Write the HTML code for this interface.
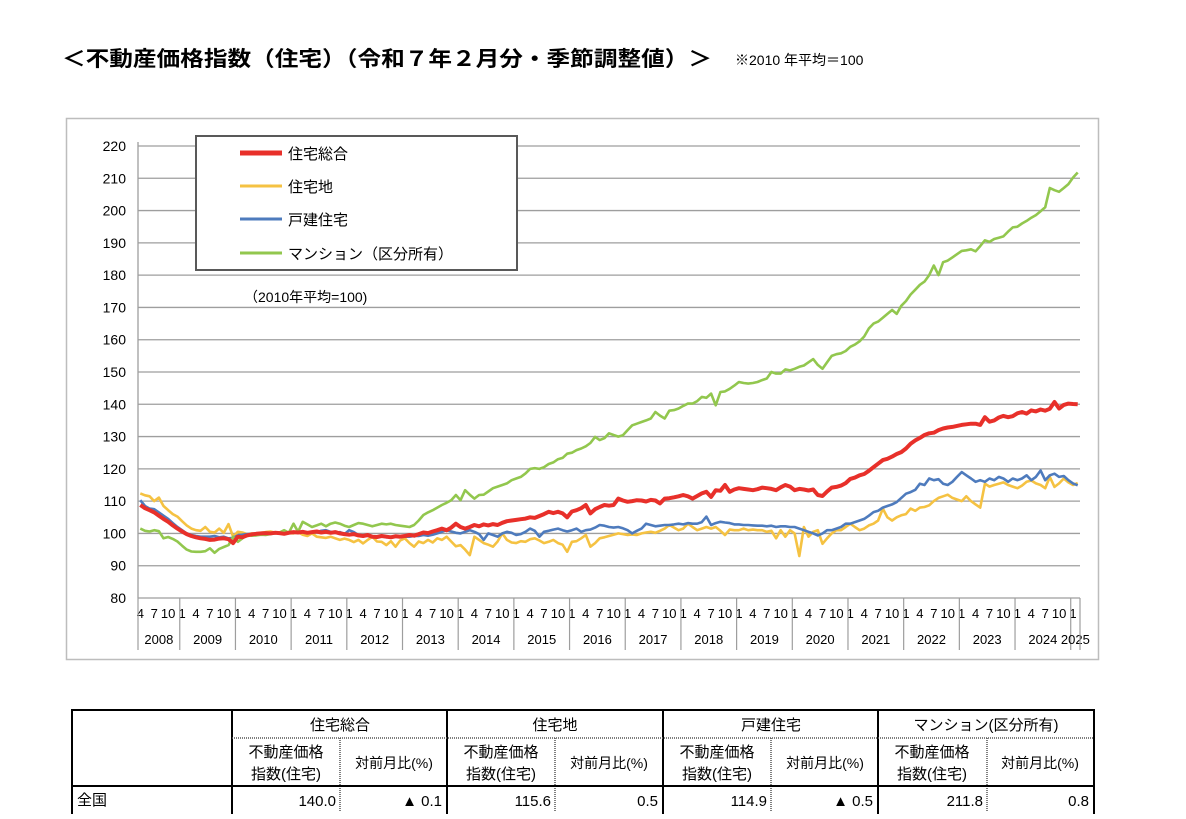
<!DOCTYPE html>
<html><head><meta charset="utf-8">
<style>
html,body{margin:0;padding:0;background:#fff;}
body{width:1186px;height:814px;overflow:hidden;position:relative;font-family:"Liberation Sans","Noto Sans CJK JP",sans-serif;}
svg text{font-family:"Liberation Sans","Noto Sans CJK JP",sans-serif;}
</style></head>
<body>
<svg id="chart" width="1186" height="814" viewBox="0 0 1186 814" xmlns="http://www.w3.org/2000/svg">
<text x="62" y="66" font-size="21" font-weight="bold" textLength="650" lengthAdjust="spacingAndGlyphs">＜不動産価格指数（住宅）（令和７年２月分・季節調整値）＞</text>
<text x="735" y="65" font-size="14">※2010 年平均＝100</text>
<rect x="66.5" y="118.5" width="1032" height="541" fill="#fff" stroke="#bdbdbd" stroke-width="1.5"/>
<g id="grid"></g>
<g id="xaxis"></g>
<g id="series"></g>
<g>
<rect x="196" y="136" width="321" height="134" fill="#fff" stroke="#595959" stroke-width="2"/>
<line x1="240" y1="153" x2="282" y2="153" stroke="#e8302a" stroke-width="5"/>
<text x="288" y="159" font-size="15">住宅総合</text>
<line x1="240" y1="186" x2="282" y2="186" stroke="#f5c242" stroke-width="3"/>
<text x="288" y="192" font-size="15">住宅地</text>
<line x1="240" y1="219" x2="282" y2="219" stroke="#4e7bbd" stroke-width="3"/>
<text x="288" y="225" font-size="15">戸建住宅</text>
<line x1="240" y1="253" x2="282" y2="253" stroke="#92c74e" stroke-width="3"/>
<text x="288" y="259" font-size="15">マンション（区分所有）</text>
</g>
<text x="244" y="302" font-size="14">（2010年平均=100)</text>

<g font-size="15">
<rect x="72" y="710" width="1022" height="106" fill="none" stroke="#000" stroke-width="2"/>
<line x1="232" y1="710" x2="232" y2="814" stroke="#000" stroke-width="2"/>
<line x1="447" y1="710" x2="447" y2="814" stroke="#000" stroke-width="2"/>
<line x1="663" y1="710" x2="663" y2="814" stroke="#000" stroke-width="2"/>
<line x1="878" y1="710" x2="878" y2="814" stroke="#000" stroke-width="2"/>
<line x1="232" y1="738" x2="1094" y2="738" stroke="#555" stroke-width="1.5" stroke-dasharray="1,1"/>
<line x1="340" y1="738" x2="340" y2="812" stroke="#555" stroke-width="1.5" stroke-dasharray="1,1"/>
<line x1="555" y1="738" x2="555" y2="812" stroke="#555" stroke-width="1.5" stroke-dasharray="1,1"/>
<line x1="771" y1="738" x2="771" y2="812" stroke="#555" stroke-width="1.5" stroke-dasharray="1,1"/>
<line x1="987" y1="738" x2="987" y2="812" stroke="#555" stroke-width="1.5" stroke-dasharray="1,1"/>
<line x1="72" y1="786" x2="1094" y2="786" stroke="#000" stroke-width="2"/>
<text x="340" y="730" text-anchor="middle">住宅総合</text>
<text x="555" y="730" text-anchor="middle">住宅地</text>
<text x="771" y="730" text-anchor="middle">戸建住宅</text>
<text x="986" y="730" text-anchor="middle">マンション(区分所有)</text>
<g id="subheads"></g>
<text x="77" y="805">全国</text>
<text x="336" y="806" text-anchor="end">140.0</text>
<text x="442" y="806" text-anchor="end">▲ 0.1</text>
<text x="551" y="806" text-anchor="end">115.6</text>
<text x="658" y="806" text-anchor="end">0.5</text>
<text x="767" y="806" text-anchor="end">114.9</text>
<text x="873" y="806" text-anchor="end">▲ 0.5</text>
<text x="983" y="806" text-anchor="end">211.8</text>
<text x="1089" y="806" text-anchor="end">0.8</text>
</g>
</svg>
<script>
const yTicks=[80,90,100,110,120,130,140,150,160,170,180,190,200,210,220];
const years=[2008,2009,2010,2011,2012,2013,2014,2015,2016,2017,2018,2019,2020,2021,2022,2023,2024,2025];
const total=[108.8,107.8,107.2,106.5,105.5,104.5,103.6,102.5,101.5,
100.6,99.8,99.2,98.8,98.5,98.3,98.0,98.1,98.4,98.5,98.2,97.0,
99.0,98.8,99.4,99.7,99.9,100.0,100.1,100.0,100.2,100.1,99.9,100.2,
100.4,100.3,100.5,100.2,100.4,100.6,100.3,100.5,100.2,100.4,100.0,99.8,
99.6,99.8,99.4,99.2,99.5,99.0,98.9,99.2,99.0,98.8,99.1,99.0,
99.2,99.5,99.3,99.8,100.3,100.1,100.6,101.0,101.5,101.0,101.8,103.0,
102.0,101.5,102.0,102.6,102.2,102.8,102.5,102.9,102.6,103.3,103.8,104.0,
104.2,104.4,104.6,105.0,104.8,105.4,106.0,106.7,106.3,106.7,106.2,105.0,
106.8,107.2,107.8,108.8,106.2,107.5,108.2,108.8,108.6,108.8,110.8,110.2,
109.8,110.0,110.3,110.2,109.9,110.4,110.2,109.3,110.8,110.9,111.2,111.5,
111.9,111.5,110.8,111.6,112.4,112.9,111.3,113.4,113.2,115.0,112.9,113.6,
114.0,113.8,113.6,113.4,113.7,114.2,114.0,113.8,113.4,114.3,115.0,114.5,
113.4,113.8,113.6,113.3,113.6,111.9,111.6,113.0,114.2,114.4,114.8,115.6,
116.9,117.3,118.0,118.4,119.4,120.5,121.6,122.7,123.1,123.8,124.6,125.2,
126.3,127.8,128.8,129.6,130.5,131.0,131.2,132.0,132.5,132.8,133.0,133.3,
133.6,133.8,134.0,134.0,133.6,136.0,134.6,135.0,135.9,136.4,136.0,136.3,
137.2,137.6,137.1,138.1,137.8,138.4,138.0,138.6,140.7,138.7,139.8,140.2,
140.1,140.0];
const land=[112.4,111.8,111.5,110.0,111.1,108.5,107.2,106.0,105.2,
103.8,102.5,101.5,101.0,100.8,102.0,100.5,100.3,101.5,100.2,102.9,99.0,
100.5,100.3,99.8,100.0,99.8,100.2,100.4,100.6,100.3,100.0,99.9,100.1,
100.0,100.4,99.6,99.2,100.0,99.0,98.8,98.6,99.0,98.5,98.0,98.4,
98.0,97.3,98.0,96.9,98.0,99.0,97.5,97.4,96.4,97.6,95.9,97.8,
98.5,97.0,95.9,97.5,97.0,98.0,97.2,98.5,98.0,99.0,97.5,96.0,
96.4,95.0,93.3,99.0,98.0,97.0,96.5,95.9,97.5,100.0,98.0,97.2,
97.0,97.6,97.4,98.2,98.5,97.8,97.0,97.4,98.0,97.0,96.5,94.3,
97.4,97.6,98.5,99.5,95.9,97.0,98.5,98.8,99.2,99.6,100.0,99.8,
99.5,99.7,99.5,100.0,100.3,100.5,100.2,100.8,101.5,102.6,101.8,101.0,
101.5,103.0,102.0,101.0,101.5,102.0,101.5,102.0,100.8,99.5,101.2,101.0,
101.0,101.5,101.0,101.2,101.0,101.0,100.5,100.8,98.5,101.0,99.0,101.0,
100.0,93.0,102.0,99.0,100.5,101.0,96.8,98.5,100.0,101.0,101.0,102.0,
103.0,102.0,101.0,101.5,102.5,103.0,104.0,107.7,105.0,104.0,105.0,105.6,
106.0,107.7,107.0,108.0,108.2,108.7,110.0,111.0,111.5,112.0,111.0,110.5,
110.0,111.5,110.0,109.0,108.0,115.4,114.5,115.0,115.4,115.8,115.0,114.5,
114.0,114.8,116.0,116.4,115.5,115.0,114.0,117.5,114.4,115.5,117.0,115.8,
115.0,115.6];
const detached=[110.3,108.5,107.7,107.5,106.5,105.5,104.5,103.2,102.0,
101.0,100.0,99.5,99.2,99.0,99.0,99.0,99.2,98.8,99.0,98.5,98.6,
99.4,99.6,99.8,99.9,100.0,100.0,100.1,100.0,100.2,100.1,100.0,100.3,
100.2,100.4,100.6,100.3,100.5,100.4,100.8,101.0,100.5,100.2,100.4,99.8,
101.0,100.4,99.5,99.4,99.2,99.0,99.0,99.2,98.8,99.0,99.0,98.9,
99.0,99.0,99.2,99.2,99.5,99.3,99.6,100.0,100.5,101.0,100.6,100.2,
100.0,100.5,101.0,100.5,99.8,98.0,100.0,99.5,99.0,100.0,100.5,100.2,
99.5,99.8,100.5,101.5,100.8,99.0,100.5,100.8,101.2,101.5,101.0,100.6,
101.0,101.5,100.5,101.0,101.2,101.8,102.6,102.4,102.0,101.8,102.0,101.6,
101.0,100.0,100.8,101.5,103.0,102.6,102.2,102.4,102.6,102.6,102.8,103.0,
102.8,103.2,103.0,103.0,103.5,105.2,102.6,103.2,103.6,103.4,103.2,102.8,
102.8,102.6,102.6,102.5,102.4,102.4,102.2,102.4,102.0,102.2,102.2,102.0,
102.0,101.5,101.0,100.5,100.0,99.4,100.0,101.0,101.0,101.5,102.0,103.0,
103.0,103.5,104.0,104.5,105.5,106.6,107.0,108.0,108.5,109.0,109.7,111.0,
112.3,112.8,113.5,115.4,115.0,117.0,116.5,116.8,115.4,115.0,116.0,117.5,
119.0,118.0,117.0,116.0,116.5,116.0,117.0,116.5,117.5,117.0,116.0,117.0,
116.5,117.0,118.0,116.5,117.5,119.5,116.5,118.0,118.5,117.5,117.8,116.5,
115.5,114.9];
const condo=[101.5,100.8,100.6,101.0,100.7,98.5,98.9,98.3,97.5,
96.2,95.0,94.4,94.3,94.3,94.5,95.4,94.0,95.2,95.8,96.4,99.0,
97.4,98.5,99.5,99.3,99.4,99.6,99.5,99.8,100.0,100.3,101.0,100.2,
103.0,100.5,103.6,102.8,102.0,102.5,103.0,102.2,103.0,103.4,103.0,102.4,
102.0,102.6,103.2,103.0,102.6,102.2,102.6,103.0,102.8,103.0,102.6,102.4,
102.2,102.0,102.6,104.0,105.7,106.5,107.2,108.0,108.8,109.5,110.3,111.9,
110.3,113.4,112.0,110.8,111.9,112.0,113.0,114.0,114.5,115.0,115.5,116.5,
117.0,117.5,118.6,120.0,120.2,120.0,120.5,121.5,122.0,123.0,123.4,124.7,
125.0,125.8,126.3,127.0,128.0,129.9,128.9,129.5,131.0,130.5,130.0,130.4,
132.0,133.5,134.0,134.5,135.0,135.6,137.6,136.5,135.6,138.0,138.2,138.7,
139.5,140.2,140.2,141.0,142.3,142.0,143.3,139.7,143.8,144.0,144.8,145.8,
146.9,146.6,146.4,146.6,146.9,147.5,148.0,150.0,149.5,149.5,150.8,150.5,
151.0,151.6,152.0,153.0,154.0,152.2,151.0,153.0,155.0,155.5,155.8,156.5,
157.8,158.5,159.5,161.0,163.5,165.0,165.6,166.8,168.0,169.2,168.0,170.5,
172.0,174.0,175.5,177.0,178.0,180.0,183.0,180.0,184.0,184.5,185.5,186.5,
187.5,187.7,188.0,187.4,189.0,190.8,190.3,191.2,191.6,192.0,193.5,194.8,
195.0,196.0,196.8,197.8,198.6,199.8,201.0,207.0,206.3,205.8,207.0,208.2,
210.2,211.8];

const NS='http://www.w3.org/2000/svg';
const X0=138,X1=1080,Y0=598,Y1=146,YMIN=80,YMAX=220;
const N=total.length;
const step=(X1-X0)/N;
function xIdx(i){return X0+(i+0.5)*step;}
function xEdge(i){return X0+i*step;}
function yVal(v){return Y0-(v-YMIN)/(YMAX-YMIN)*(Y0-Y1);}
function mk(tag,attrs,parent){const e=document.createElementNS(NS,tag);for(const k in attrs)e.setAttribute(k,attrs[k]);parent.appendChild(e);return e;}

const grid=document.getElementById('grid');
yTicks.forEach(v=>{
  const y=yVal(v);
  if(v>YMIN){const l=mk('line',{x1:X0,y1:y,x2:X1,y2:y,stroke:'#9e9e9e','stroke-width':1.3},grid);
  
  }
  const t=mk('text',{x:126,y:y+5,'text-anchor':'end','font-size':14},grid);
  
  
  t.textContent=v;
});
const yax=mk('line',{x1:X0,y1:Y1-4,x2:X0,y2:Y0,stroke:'#9e9e9e','stroke-width':1.3},grid);



const xa=document.getElementById('xaxis');
const xl=mk('line',{x1:X0,y1:Y0,x2:X1,y2:Y0,stroke:'#9e9e9e','stroke-width':1.3},xa);


// month index: 0 = 2008 Apr
for(let i=0;i<N;i++){
  const m=(i+3)%12+1;
  if(m===1||m===4||m===7||m===10){
    const t=mk('text',{x:xIdx(i),y:618,'text-anchor':'middle','font-size':13},xa);
    
    
    t.textContent=m;
  }
}
years.forEach((yr,k)=>{
  const s=k===0?0:9+(k-1)*12;
  const e=Math.min(N,k===0?9:s+12);
  const sep=mk('line',{x1:xEdge(s),y1:Y0,x2:xEdge(s),y2:650,stroke:'#9e9e9e','stroke-width':1.2},xa);
  
  
  const t=mk('text',{x:(xEdge(s)+xEdge(e))/2,y:644,'text-anchor':'middle','font-size':13},xa);
  
  
  t.textContent=yr;
});
const endSep=mk('line',{x1:X1,y1:Y0,x2:X1,y2:650,stroke:'#9e9e9e','stroke-width':1.2},xa);



const sg=document.getElementById('series');
[[land,'#f5c242',2.6,'series-land'],[detached,'#4e7bbd',2.6,'series-detached'],[condo,'#92c74e',2.6,'series-condo'],[total,'#e8302a',4,'series-total']].forEach(([arr,c,w,name])=>{
  const pts=arr.map((v,i)=>xIdx(i).toFixed(1)+','+yVal(v).toFixed(1)).join(' ');
  const p=mk('polyline',{points:pts,fill:'none',stroke:c,'stroke-width':w,'stroke-linejoin':'round'},sg);
  
  
});

const sh=document.getElementById('subheads');
[232,447,663,878].forEach(x0=>{
  const a=mk('text',{x:x0+54,y:757,'text-anchor':'middle','font-size':15},sh);
  
  
  a.textContent='不動産価格';
  const b=mk('text',{x:x0+54,y:779,'text-anchor':'middle','font-size':15},sh);
  
  
  b.textContent='指数(住宅)';
  const c=mk('text',{x:x0+162,y:768,'text-anchor':'middle','font-size':14},sh);
  
  
  c.textContent='対前月比(%)';
});
</script>
</body></html>
